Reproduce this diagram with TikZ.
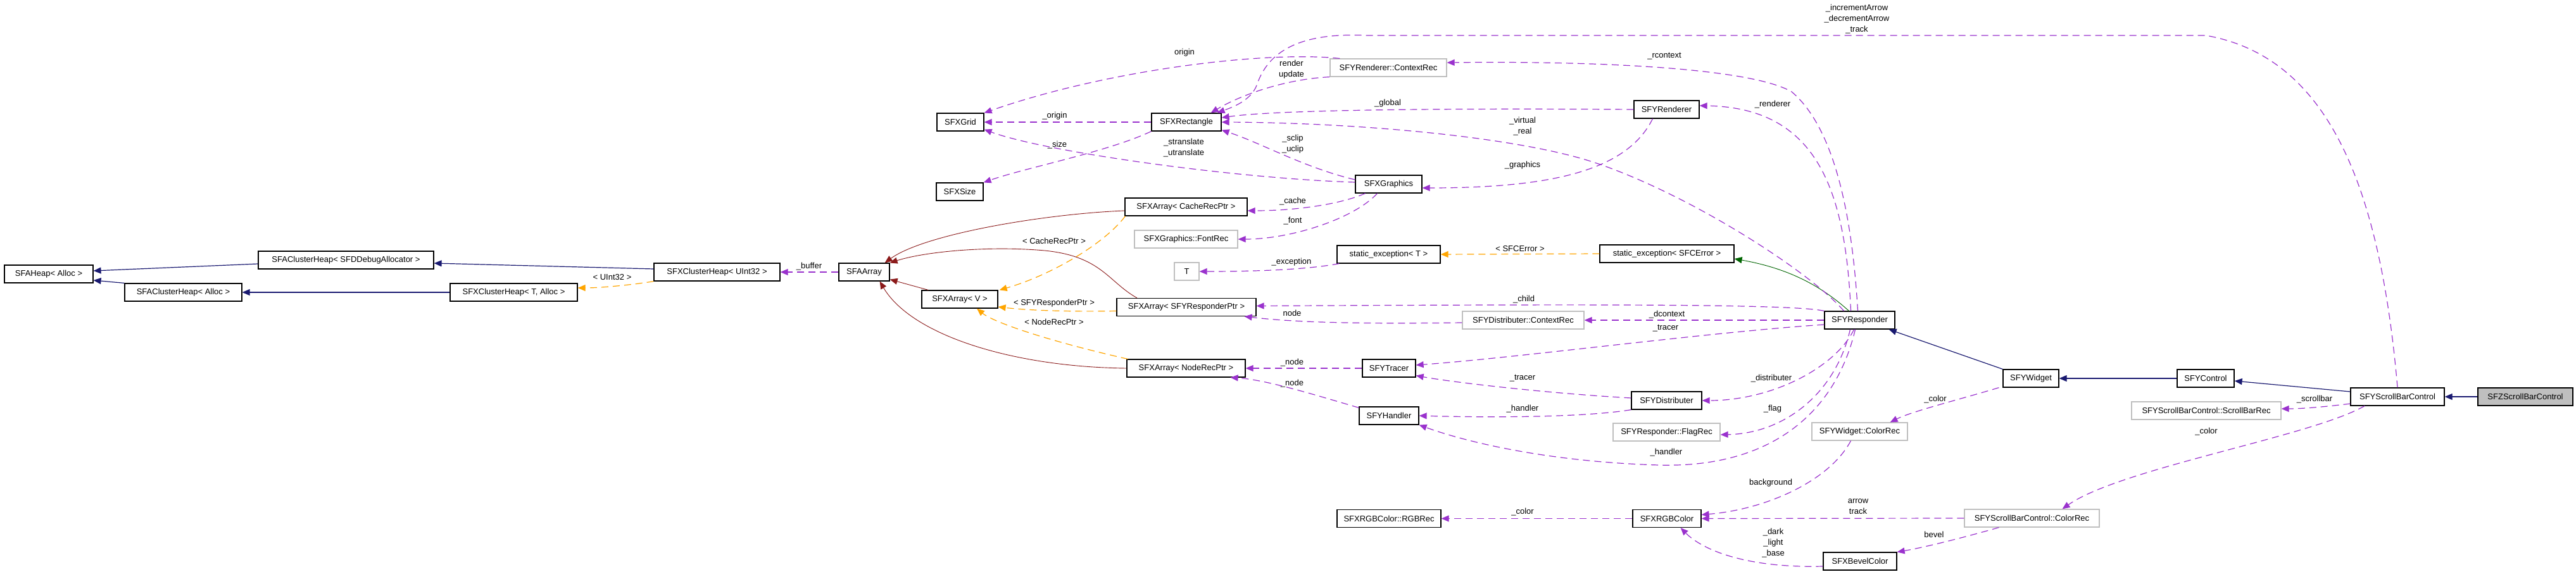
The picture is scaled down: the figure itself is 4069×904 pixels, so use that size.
\documentclass[tikz,border=0pt]{standalone}
\usepackage{fontspec}
\setmainfont{Liberation Sans}
\usetikzlibrary{arrows.meta}

\definecolor{inhblue}{HTML}{191970}
\definecolor{inhgreen}{HTML}{006400}
\definecolor{inhred}{HTML}{8B1A1A}
\definecolor{tmplorange}{HTML}{FFA500}
\definecolor{usepurple}{HTML}{9A32CD}
\definecolor{nodoc}{HTML}{BFBFBF}

\tikzset{
  cls/.style={draw=black, line width=1.2pt, minimum height=28pt, inner sep=0pt,
    font=\fontsize{13}{15}\selectfont},
  clsgray/.style={cls, draw=nodoc},
  clsmain/.style={cls, fill=nodoc},
  lbl/.style={font=\fontsize{13}{17}\selectfont, align=center, inner sep=0pt},
  dep/.style={-{Triangle[length=12pt,width=10pt]}, line width=1.2pt},
  pubinh/.style={dep, draw=inhblue},
  grninh/.style={dep, draw=inhgreen, line width=0.9pt},
  protinh/.style={dep, draw=inhred, line width=0.9pt},
  tmpl/.style={dep, draw=tmplorange, dash pattern=on 11pt off 7pt},
  usage/.style={dep, draw=usepurple, dash pattern=on 11pt off 7pt},
}

\begin{document}
\begin{tikzpicture}[x=1pt, y=-1pt]
    \useasboundingbox (0,0) rectangle (4069,904);

    % Class boxes
    \node[cls, minimum width=140pt] (heap) at (77,433) {SFAHeap< Alloc >};
    \node[cls, minimum width=277pt] (chDbg) at (546.5,411) {SFAClusterHeap< SFDDebugAllocator >};
    \node[cls, minimum width=185pt] (chAlloc) at (289.5,462) {SFAClusterHeap< Alloc >};
    \node[cls, minimum width=201pt] (xchTA) at (811.5,462) {SFXClusterHeap< T, Alloc >};
    \node[cls, minimum width=199pt] (xchU32) at (1132.5,430) {SFXClusterHeap< UInt32 >};
    \node[cls, minimum width=80pt] (sfaarray) at (1365,430) {SFAArray};
    \node[cls, minimum width=74pt] (grid) at (1517,193) {SFXGrid};
    \node[cls, minimum width=74pt] (size) at (1516,303) {SFXSize};
    \node[cls, minimum width=110pt] (rect) at (1874,193) {SFXRectangle};
    \node[clsgray, minimum width=184pt] (ctxRend) at (2193,107) {SFYRenderer::ContextRec};
    \node[cls, minimum width=103pt] (renderer) at (2632.5,173) {SFYRenderer};
    \node[cls, minimum width=105pt] (graphics) at (2193.5,291) {SFXGraphics};
    \node[cls, minimum width=193pt] (cache) at (1873.5,327) {SFXArray< CacheRecPtr >};
    \node[clsgray, minimum width=163pt] (fontRec) at (1873.5,378) {SFXGraphics::FontRec};
    \node[clsgray, minimum width=39pt] (tT) at (1874.5,429) {T};
    \node[cls, minimum width=120pt] (arrV) at (1516,473) {SFXArray< V >};
    \node[cls, minimum width=220pt] (arrResp) at (1874,485.5) {SFXArray< SFYResponderPtr >};
    \node[cls, minimum width=187pt] (arrNode) at (1873.5,582) {SFXArray< NodeRecPtr >};
    \node[cls, minimum width=163pt] (excT) at (2193.5,402) {static\_exception< T >};
    \node[cls, minimum width=212pt] (excErr) at (2633,401) {static\_exception< SFCError >};
    \node[cls, minimum width=111pt] (responder) at (2937.5,506) {SFYResponder};
    \node[clsgray, minimum width=192pt] (ctxDist) at (2406,506) {SFYDistributer::ContextRec};
    \node[cls, minimum width=84pt] (tracer) at (2194,582) {SFYTracer};
    \node[cls, minimum width=111pt] (distributer) at (2632.5,633) {SFYDistributer};
    \node[cls, minimum width=94pt] (handler) at (2194,657) {SFYHandler};
    \node[clsgray, minimum width=169pt] (flagRec) at (2632.5,683) {SFYResponder::FlagRec};
    \node[clsgray, minimum width=151pt] (widgetColor) at (2937.5,682) {SFYWidget::ColorRec};
    \node[cls, minimum width=164pt] (rgbRec) at (2194,819.5) {SFXRGBColor::RGBRec};
    \node[cls, minimum width=108pt] (rgb) at (2633,819.5) {SFXRGBColor};
    \node[cls, minimum width=116pt] (bevel) at (2938,887) {SFXBevelColor};
    \node[cls, minimum width=88pt] (widget) at (3208,598) {SFYWidget};
    \node[cls, minimum width=90pt] (control) at (3484,598) {SFYControl};
    \node[cls, minimum width=148pt] (sbc) at (3787,627) {SFYScrollBarControl};
    \node[clsmain, minimum width=150pt] (zsbc) at (3989,627) {SFZScrollBarControl};
    \node[clsgray, minimum width=236pt] (sbRec) at (3485,649) {SFYScrollBarControl::ScrollBarRec};
    \node[clsgray, minimum width=213pt] (sbColor) at (3209.5,819) {SFYScrollBarControl::ColorRec};

    % Inheritance
    \draw[pubinh] ([yshift=-6pt]chDbg.west) -- ([yshift=5pt]heap.east);
    \draw[pubinh] (chAlloc.north west) -- ([yshift=-10pt]heap.east);
    \draw[pubinh] ([yshift=5pt]xchU32.west) -- ([yshift=-5pt]chDbg.east);
    \draw[pubinh] (xchTA.west) -- (chAlloc.east);
    \draw[pubinh] (widget.north west) -- ([xshift=-10pt]responder.south east);
    \draw[pubinh] (control.west) -- (widget.east);
    \draw[pubinh] ([yshift=8pt]sbc.west) -- ([yshift=-4pt]control.east);
    \draw[pubinh] (zsbc.west) -- (sbc.east);
    \draw[grninh] ([xshift=-17pt]responder.north) .. controls (2880,455) and (2830,425) .. ([yshift=-8pt]excErr.east);
    \draw[protinh] ([yshift=-6pt]cache.west) .. controls (1650,338) and (1460,370) .. ([xshift=-8pt]sfaarray.north east);
    \draw[protinh] ([xshift=-78pt]arrResp.north) .. controls (1750,445) and (1740,405) .. (1650,396) .. controls (1560,388) and (1460,398) .. (sfaarray.north east);
    \draw[protinh] ([xshift=11pt]arrV.north west) -- ([yshift=3pt]sfaarray.south east);
    \draw[protinh] (arrNode.west) .. controls (1600,580) and (1440,530) .. ([xshift=-16pt]sfaarray.south east);

    % Template instances
    \draw[tmpl] (xchU32.south west) .. controls (1000,450) and (950,455) .. ([yshift=7pt]xchTA.east);
    \draw[tmpl] ([xshift=1pt]cache.south west) .. controls (1745,385) and (1660,435) .. ([xshift=2pt]arrV.north east);
    \draw[tmpl] ([yshift=-6pt]arrResp.west) .. controls (1680,493) and (1620,490) .. ([yshift=-12pt]arrV.east);
    \draw[tmpl] ([xshift=2pt]arrNode.north west) .. controls (1660,540) and (1570,510) .. ([xshift=27pt]arrV.south);
    \draw[tmpl] (excErr.west) -- (excT.east);

    % Usage
    \draw[usage] (sfaarray.west) -- (xchU32.east);
    \draw[usage] (rect.west) -- (grid.east);
    \draw[usage] (rect.south west) .. controls (1750,240) and (1620,265) .. (size.north east);
    \draw[usage] ([yshift=3pt]graphics.west) .. controls (1950,282) and (1650,240) .. ([yshift=3pt]grid.south east);
    \draw[usage] ([yshift=7pt]graphics.west) .. controls (2060,265) and (1990,225) .. ([yshift=2pt]rect.south east);
    \draw[usage] ([xshift=16pt]ctxRend.north west) .. controls (2000,80) and (1750,110) .. (grid.north east);
    \draw[usage] (ctxRend.south west) .. controls (2030,125) and (1960,150) .. ([xshift=-17pt]rect.north east);
    \draw[usage] (sbc.north) .. controls (3760,300) and (3680,90) .. (3484,56) -- (2160,56) .. controls (2040,50) and (2000,90) .. (1985,135) .. controls (1975,160) and (1945,170) .. ([xshift=-7pt]rect.north east);
    \draw[usage] ([xshift=-25pt]responder.north) .. controls (2860,430) and (2669,307) .. (2519,257) .. controls (2399,217) and (2150,194) .. (rect.east);
    \draw[usage] (renderer.west) .. controls (2300,171) and (2020,173) .. ([yshift=7pt]rect.east);
    \draw[usage] ([xshift=-14pt]responder.north) .. controls (2915,300) and (2870,170) .. ([yshift=6pt]renderer.east);
    \draw[usage] ([xshift=-3pt]responder.north) .. controls (2925,330) and (2895,200) .. (2830,145) .. controls (2770,110) and (2550,96) .. ([yshift=8pt]ctxRend.east);
    \draw[usage] ([xshift=-22pt]renderer.south) .. controls (2570,270) and (2450,297) .. ([yshift=-6pt]graphics.east);
    \draw[usage] ([xshift=-37pt]graphics.south) .. controls (2120,322) and (2050,333) .. ([yshift=-6pt]cache.east);
    \draw[usage] ([xshift=-18pt]graphics.south) .. controls (2140,345) and (2040,378) .. (fontRec.east);
    \draw[usage] ([xshift=4pt]excT.south west) .. controls (2070,425) and (2000,429) .. (tT.east);
    \draw[usage] (responder.north west) .. controls (2830,480) and (2500,481) .. ([yshift=2pt]arrResp.east);
    \draw[usage] ([yshift=-4pt]ctxDist.west) .. controls (2150,512) and (2050,510) .. ([xshift=-19pt]arrResp.south east);
    \draw[usage] (responder.west) -- (ctxDist.east);
    \draw[usage] ([yshift=-7pt]responder.west) .. controls (2700,525) and (2400,565) .. ([yshift=5pt]tracer.east);
    \draw[usage] (tracer.west) -- (arrNode.east);
    \draw[usage] ([yshift=-2pt]handler.north west) .. controls (2080,625) and (2000,600) .. ([xshift=-24pt]arrNode.south east);
    \draw[usage] ([yshift=4pt]distributer.west) .. controls (2450,622) and (2300,605) .. ([yshift=3pt]tracer.south east);
    \draw[usage] (distributer.south west) .. controls (2500,660) and (2350,660) .. (handler.east);
    \draw[usage] ([xshift=-9pt]responder.south) .. controls (2900,580) and (2800,633) .. (distributer.east);
    \draw[usage] ([xshift=-15pt]responder.south) .. controls (2900,620) and (2820,685) .. ([yshift=-4pt]flagRec.east);
    \draw[usage] ([xshift=-7pt]responder.south) .. controls (2900,650) and (2800,740) .. (2620,735) .. controls (2450,730) and (2320,700) .. (handler.south east);
    \draw[usage] ([xshift=-6pt]widget.south west) .. controls (3100,630) and (3020,650) .. ([xshift=-28pt]widgetColor.north east);
    \draw[usage] ([yshift=-11pt]sbc.west) .. controls (3680,642) and (3640,646) .. ([yshift=3pt]sbRec.east);
    \draw[usage] ([xshift=-52pt]sbc.south) .. controls (3650,690) and (3350,740) .. ([xshift=48pt]sbColor.north);
    \draw[usage] (sbColor.west) -- (rgb.east);
    \draw[usage] ([xshift=-14pt]widgetColor.south) .. controls (2890,760) and (2790,805) .. ([yshift=6pt]rgb.east);
    \draw[usage] (rgb.west) -- (rgbRec.east);
    \draw[usage] ([yshift=-8pt]bevel.west) .. controls (2760,898) and (2690,870) .. ([xshift=-33pt]rgb.south east);
    \draw[usage] ([xshift=-52pt]sbColor.south) .. controls (3100,850) and (3040,865) .. (bevel.north east);

    % Edge labels
    \node[lbl] (lUInt) at (967,438) {< UInt32 >};
    \node[lbl] (lBuffer) at (1278,421) {\_buffer};
    \node[lbl] (lOriginRend) at (1871,83) {origin};
    \node[lbl] (lOrigin) at (1666,183) {\_origin};
    \node[lbl] (lSize) at (1670,229) {\_size};
    \node[lbl] (lTranslate) at (1870,234) {\_stranslate\\\_utranslate};
    \node[lbl] (lClip) at (2042,227.5) {\_sclip\\\_uclip};
    \node[lbl] (lRender) at (2040,110) {render\\update};
    \node[lbl] (lArrows) at (2933,30) {\_incrementArrow\\\_decrementArrow\\\_track};
    \node[lbl] (lGlobal) at (2192,163) {\_global};
    \node[lbl] (lVirtual) at (2405,199.5) {\_virtual\\\_real};
    \node[lbl] (lRcontext) at (2629,89) {\_rcontext};
    \node[lbl] (lRenderer) at (2800,165) {\_renderer};
    \node[lbl] (lGraphics) at (2405,261) {\_graphics};
    \node[lbl] (lCache) at (2042,318) {\_cache};
    \node[lbl] (lFont) at (2042,349) {\_font};
    \node[lbl] (lCacheRec) at (1665,381) {< CacheRecPtr >};
    \node[lbl] (lException) at (2040,414) {\_exception};
    \node[lbl] (lSFCError) at (2401,393) {< SFCError >};
    \node[lbl] (lRespPtr) at (1665,479) {< SFYResponderPtr >};
    \node[lbl] (lNodeRec) at (1665,509) {< NodeRecPtr >};
    \node[lbl] (lNodeDist) at (2041,495) {node};
    \node[lbl] (lChild) at (2407,473) {\_child};
    \node[lbl] (lDcontext) at (2633,497) {\_dcontext};
    \node[lbl] (lTracerResp) at (2631,519) {\_tracer};
    \node[lbl] (lNodeTracer) at (2041,573) {\_node};
    \node[lbl] (lNodeHandler) at (2041,606) {\_node};
    \node[lbl] (lTracerDist) at (2405,598) {\_tracer};
    \node[lbl] (lDistributer) at (2798,598) {\_distributer};
    \node[lbl] (lHandlerDist) at (2405,646) {\_handler};
    \node[lbl] (lFlag) at (2800,646) {\_flag};
    \node[lbl] (lHandlerResp) at (2632,715) {\_handler};
    \node[lbl] (lColorWidget) at (3057,631) {\_color};
    \node[lbl] (lScrollbar) at (3656,631) {\_scrollbar};
    \node[lbl] (lColorSbc) at (3485,682) {\_color};
    \node[lbl] (lBackground) at (2797,763) {background};
    \node[lbl] (lArrowTrack) at (2935,800.5) {arrow\\track};
    \node[lbl] (lColorRgb) at (2405,809) {\_color};
    \node[lbl] (lDark) at (2801,858) {\_dark\\\_light\\\_base};
    \node[lbl] (lBevel) at (3055,845) {bevel};
\end{tikzpicture}
\end{document}
